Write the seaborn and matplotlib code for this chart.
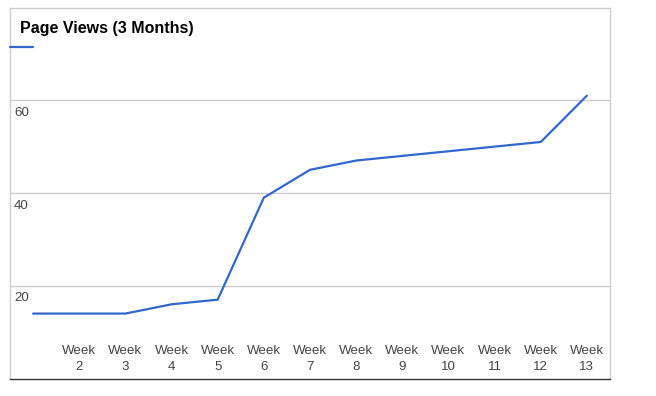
import matplotlib
matplotlib.use("Agg")
import matplotlib.pyplot as plt
import matplotlib.transforms as mtransforms
import seaborn as sns
import pandas as pd

weeks = [f"Week {i}" for i in range(1, 14)]
page_views = [14, 14, 14, 16, 17, 39, 45, 47, 48, 49, 50, 51, 61]
y_ticks = [20, 40, 60]
title = "Page Views (3 Months)"

sns.set_theme(style="white")
plt.rcParams['font.family'] = ['Liberation Sans', 'DejaVu Sans']

df = pd.DataFrame({"week": weeks, "views": page_views, "idx": range(len(weeks))})

fig = plt.figure(figsize=(6.56, 3.96), dpi=100)
W, H = 656, 396
ax = fig.add_axes([10 / W, (H - 378.5) / H, 600 / W, (378.5 - 7.5) / H])

sns.lineplot(data=df, x="idx", y="views", ax=ax, color="#3366CC", linewidth=1.6)

ax.set_xlim(-0.5, len(weeks) - 0.5)
ax.set_ylim(0, 80)
ax.set_xlabel("")
ax.set_ylabel("")

for v in y_ticks:
    ax.axhline(v, color="#cccccc", linewidth=1.0, zorder=0)
ax.set_yticks([])

# x tick labels inside the plot, skipping the first
ax.set_xticks(list(range(len(weeks))))
labels = ["" if i == 0 else w.replace(" ", "\n") for i, w in enumerate(weeks)]
ax.set_xticklabels(labels, fontsize=9.6, color="#444444", linespacing=1.45)
ax.tick_params(axis="x", length=0, pad=-24.3)

# y labels inside, below gridlines
trans = mtransforms.blended_transform_factory(ax.transAxes, ax.transData)
for v in y_ticks:
    ax.text(4 / 600, v - 1.45, str(v), transform=trans, ha="left", va="top",
            fontsize=9.6, color="#444444")

for s in ["left", "top", "right"]:
    ax.spines[s].set_color("#cccccc")
    ax.spines[s].set_linewidth(1.0)
    ax.spines[s].set_visible(True)
ax.spines["bottom"].set_color("#333333")
ax.spines["bottom"].set_linewidth(1.0)

# title and legend swatch
fig.text(20 / W, 1 - 28 / H, title, fontsize=11.5, fontweight="bold",
         color="#000000", ha="left", va="center")
fig.add_artist(plt.Line2D([10 / W, 33 / W], [1 - 47 / H, 1 - 47 / H],
                          color="#3366CC", linewidth=1.6, transform=fig.transFigure))

fig.savefig("out.png", dpi=100, facecolor="white")
